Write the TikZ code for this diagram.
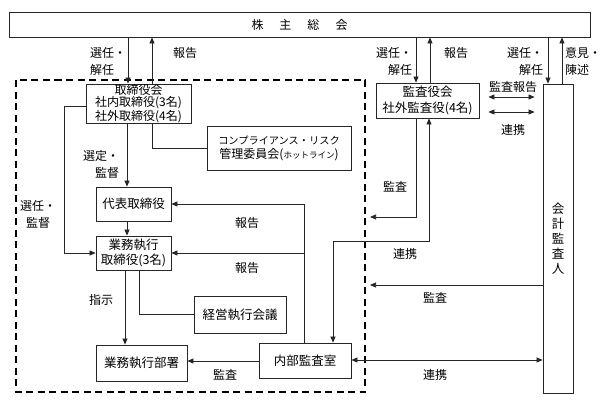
\documentclass[tikz,border=0pt]{standalone}
\usepackage{fontspec}
\setmainfont{Noto Sans CJK JP}
\usetikzlibrary{arrows.meta,calc}
\tikzset{
  box/.style={draw=black!85, line width=0.8pt, inner sep=0pt, align=center, font=\fontsize{12.5}{14}\selectfont},
  lbl/.style={inner sep=0pt, font=\fontsize{12}{17}\selectfont},
  ln/.style={draw=black!85, line width=0.75pt},
  arr/.style={ln, -{Triangle[length=6pt,width=5pt]}},
  darr/.style={ln, {Triangle[length=6pt,width=5pt]}-{Triangle[length=6pt,width=5pt]}},
  dbox/.style={draw=black, line width=1.6pt, dash pattern=on 7pt off 4.5pt},
}
\begin{document}
\begin{tikzpicture}[x=1pt,y=-1pt]
\useasboundingbox (0,0) rectangle (605,410);
% columns and rows
\coordinate (c64) at (64,0);
\coordinate (c125) at (125,0);
\coordinate (c127) at (127,0);
\coordinate (c128) at (128,0);
\coordinate (c139) at (139,0);
\coordinate (c152) at (152,0);
\coordinate (c304) at (304,0);
\coordinate (c333) at (333,0);
\coordinate (c416) at (416,0);
\coordinate (c429) at (429,0);
\coordinate (c430) at (430,0);
\coordinate (c548) at (548,0);
\coordinate (c562) at (562,0);
\coordinate (r97) at (0,97);
\coordinate (r106) at (0,106);
\coordinate (r112) at (0,112);
\coordinate (r241) at (0,241);
\coordinate (r360) at (0,360);
\coordinate (r361) at (0,361);
\coordinate (kanEnd) at (370,217);
\coordinate (accEnd) at (370,285);

% dashed region
\draw[dbox] (16,80) rectangle (365,392);

% boxes
\node[box, minimum width=581pt, minimum height=25pt, font=\fontsize{12}{14}\selectfont] (gm) at (299.5,24.5)
  {株\hspace{16pt}主\hspace{16pt}総\hspace{16pt}会};
\node[box, minimum width=105pt, minimum height=39pt, font=\fontsize{12}{12}\selectfont] (bod) at (138.5,103.5)
  {取締役会\\社内取締役(3名)\\社外取締役(4名)};
\node[box, minimum width=144pt, minimum height=44pt, font=\fontsize{12}{14}\selectfont] (comp) at (279,148)
  {{\fontsize{10.2}{14}\selectfont コンプライアンス・リスク}\\管理委員会({\fontsize{8.5}{14}\selectfont ホットライン})};
\node[box, minimum width=75pt, minimum height=34pt] (rep) at (133.5,204) {代表取締役};
\node[box, minimum width=75pt, minimum height=34pt, font=\fontsize{12.5}{15}\selectfont] (exe) at (133.5,253) {業務執行\\取締役(3名)};
\node[box, minimum width=92pt, minimum height=37pt] (mgmt) at (240,314.5) {経営執行会議};
\node[box, minimum width=91pt, minimum height=36pt] (dept) at (141.5,363) {業務執行部署};
\node[box, minimum width=92pt, minimum height=35pt] (ia) at (305,360.5) {内部監査室};
\node[box, minimum width=103pt, minimum height=35pt, font=\fontsize{12.5}{16}\selectfont] (kan) at (427.5,100.5) {監査役会\\社外監査役(4名)};
\node[box, minimum width=30pt, minimum height=309pt] (acc) at (558,238.5) {};
\node[inner sep=0pt, align=center, font=\fontsize{12.5}{15}\selectfont] (acctext) at (acc.center) {会\\計\\監\\査\\人};

% connectors: shareholders' meeting
\draw[arr] (gm.south -| c128) -- (bod.north -| c128);
\draw[arr] (bod.north -| c152) -- (gm.south -| c152);
\draw[arr] (gm.south -| c416) -- (kan.north -| c416);
\draw[arr] (kan.north -| c430) -- (gm.south -| c430);
\draw[arr] (gm.south -| c548) -- (acc.north -| c548);
\draw[arr] (acc.north -| c562) -- (gm.south -| c562);
% audit board <-> accounting auditor
\draw[darr, shorten <=9pt, shorten >=8pt] (kan.east |- r97) -- (acc.west |- r97);
\draw[darr, shorten <=9pt, shorten >=8pt] (kan.east |- r112) -- (acc.west |- r112);
% board internals
\draw[arr] (bod.west |- r106) -| (c64 |- exe.west) -- (exe.west);
\draw[arr] (bod.south -| c127) -- (rep.north -| c127);
\draw[ln] (bod.south -| c152) |- (comp.west);
\draw[arr] (rep.south -| c127) -- (exe.north -| c127);
\draw[arr] (exe.south -| c125) -- (dept.north -| c125);
\draw[ln] (exe.south -| c139) |- (mgmt.west);
% internal audit
\draw[arr] (ia.north -| c304) |- (rep.east);
\draw[arr] (c304 |- exe.east) -- (exe.east);
\draw[arr] (ia.west |- r361) -- (dept.east |- r361);
% audit board
\draw[arr] (kan.south -| c416) |- (kanEnd);
\draw[darr] (ia.north -| c333) |- (r241 -| c429) -- (kan.south -| c429);
% accounting auditor
\draw[arr] (acc.west |- accEnd) -- (accEnd);
\draw[darr] (acc.west |- r360) -- (ia.east |- r360);

% labels
\node[lbl, align=left] (l1) at (108,61.5) {選任・\\解任};
\node[lbl] (l2) at (185,53) {報告};
\node[lbl, align=right] (l3) at (394,61) {選任・\\解任};
\node[lbl] (l4) at (456,53) {報告};
\node[lbl, align=right] (l5) at (525,61) {選任・\\解任};
\node[lbl, align=left] (l6) at (583,61) {意見・\\陳述};
\node[lbl] (l7) at (513,87) {監査報告};
\node[lbl] (l8) at (513,130) {連携};
\node[lbl, align=right] (l9) at (101,164.5) {選定・\\監督};
\node[lbl, align=center] (l10) at (38,214) {選任・\\監督};
\node[lbl] (l11) at (247,223) {報告};
\node[lbl] (l12) at (247,268) {報告};
\node[lbl] (l13) at (101,300) {指示};
\node[lbl] (l14) at (225,375) {監査};
\node[lbl] (l15) at (395,187) {監査};
\node[lbl] (l16) at (405,254) {連携};
\node[lbl] (l17) at (435,298) {監査};
\node[lbl] (l18) at (435,375) {連携};
\end{tikzpicture}
\end{document}
